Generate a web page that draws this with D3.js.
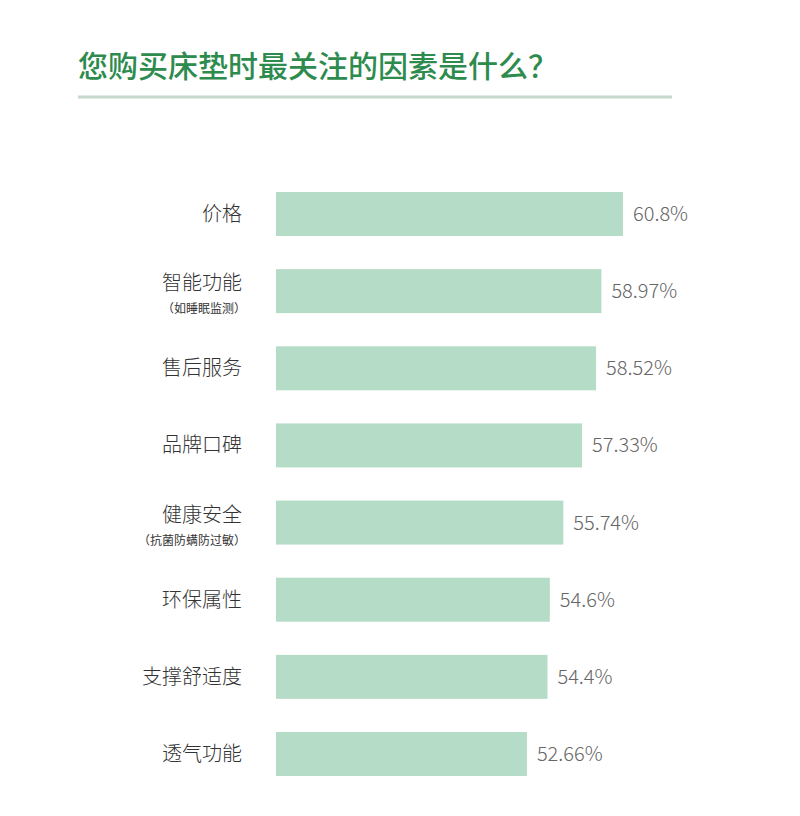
<!DOCTYPE html>
<html><head><meta charset="utf-8">
<script src="https://cdn.jsdelivr.net/npm/d3@7"></script>
<style>body{margin:0;background:#fff}</style>
</head><body><svg id="c" width="800" height="816"></svg>
<script>
const categories = ["价格","智能功能","售后服务","品牌口碑","健康安全","环保属性","支撑舒适度","透气功能"];
const subLabels = ["","（如睡眠监测）","","","（抗菌防螨防过敏）","","",""];
const values = [60.8,58.97,58.52,57.33,55.74,54.6,54.4,52.66];
const valueLabels = ["60.8%","58.97%","58.52%","57.33%","55.74%","54.6%","54.4%","52.66%"];
const title = "您购买床垫时最关注的因素是什么？";

const svg = d3.select("#c");
const font = "'Noto Sans CJK SC', 'Noto Sans', sans-serif";
svg.append("text").attr("x",78).attr("y",77).attr("fill","#2e8b4e")
  .attr("font-family",font).attr("font-size",30).attr("font-weight",500).text(title);
svg.append("line").attr("x1",78).attr("x2",672).attr("y1",97).attr("y2",97)
  .attr("stroke","#c5d9cc").attr("stroke-width",3);

const x = d3.scaleLinear().domain([31.4,60.8]).range([276,623]);
const y = d3.scaleBand().domain(categories).range([175,793]).paddingInner(0.43).paddingOuter(0.22);

const g = svg.append("g");
g.selectAll("rect").data(categories).join("rect")
  .attr("x",x(31.4)).attr("y",d=>y(d)).attr("height",y.bandwidth())
  .attr("width",(d,i)=>x(values[i])-x(31.4)).attr("fill","#b5dcc6");
g.selectAll("text.v").data(categories).join("text").attr("class","v")
  .attr("x",(d,i)=>x(values[i])+10).attr("y",d=>y(d)+y.bandwidth()/2+7)
  .attr("font-family",font).attr("font-size",20).attr("font-weight",300).attr("fill","#666")
  .text((d,i)=>valueLabels[i]);
g.selectAll("text.c").data(categories).join("text").attr("class","c")
  .attr("x",242).attr("text-anchor","end")
  .attr("y",(d,i)=>y(d)+y.bandwidth()/2+(subLabels[i]?-1:7))
  .attr("font-family",font).attr("font-size",20).attr("font-weight",300).attr("fill","#333").text(d=>d);
g.selectAll("text.s").data(categories.filter((d,i)=>subLabels[i])).join("text").attr("class","s")
  .attr("x",246).attr("text-anchor","end")
  .attr("y",d=>y(d)+y.bandwidth()/2+22)
  .attr("font-family",font).attr("font-size",12).attr("fill","#333")
  .text(d=>subLabels[categories.indexOf(d)]);
</script></body></html>
